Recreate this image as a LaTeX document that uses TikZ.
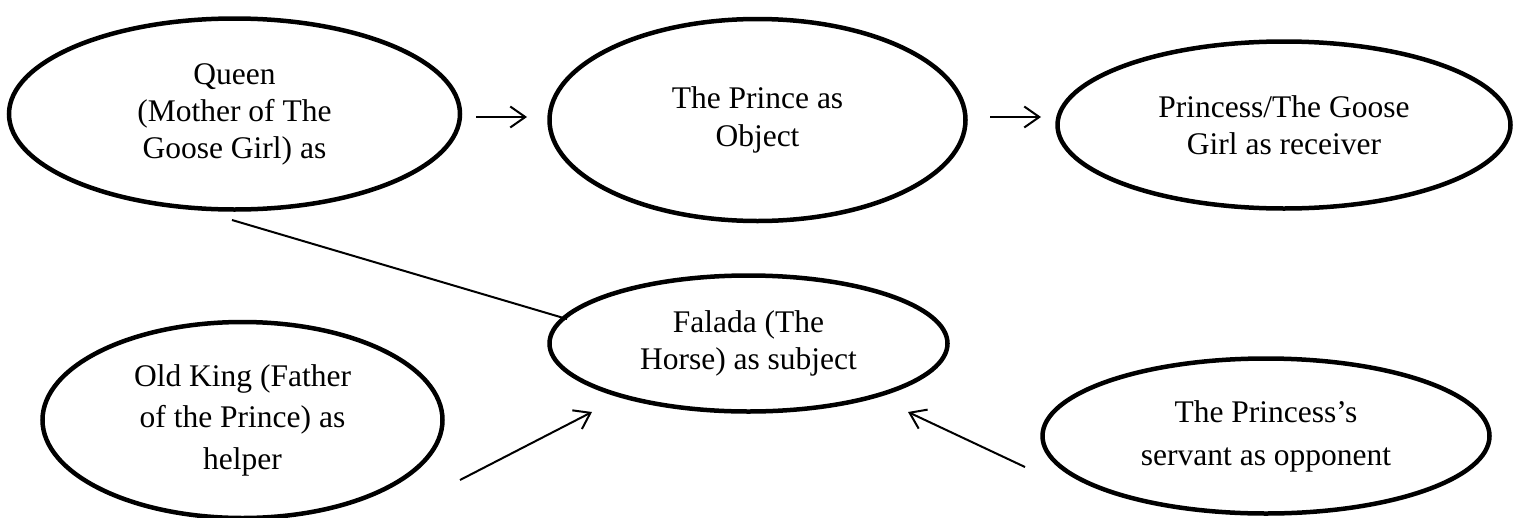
\documentclass[tikz,border=0pt]{standalone}
\usepackage{fontspec}
\setmainfont{Liberation Serif}
\usetikzlibrary{shapes.geometric,arrows.meta}
\begin{document}
\begin{tikzpicture}[x=1pt,y=-1pt,
  oval/.style={ellipse, draw, line width=4.5pt, inner sep=0pt, align=center},
  fs/.style={font=\fontsize{31.5}{#1}\selectfont},
  conn/.style={line width=2pt},
  arr/.style={conn, -{Straight Barb[length=15pt,width=21pt,line width=2pt]}}]
\useasboundingbox (0,0) rectangle (1520,517);

\node[oval, fs=37, minimum width=451pt, minimum height=191pt] (queen) at (234.5,114)
  {Queen\\(Mother of The\\Goose Girl) as};
\node[oval, fs=38, minimum width=416pt, minimum height=202pt] (prince) at (757.5,120)
  {The Prince as\\Object};
\node[oval, fs=37, minimum width=453pt, minimum height=167pt] (princess) at (1284,125)
  {Princess/The Goose\\Girl as receiver};
\node[oval, fs=37, minimum width=398pt, minimum height=136pt] (falada) at (748.5,343.5)
  {Falada (The\\Horse) as subject};
\node[oval, fs=41.5, minimum width=400pt, minimum height=196pt] (king) at (242.5,420)
  {Old King (Father\\of the Prince) as\\helper};
\node[oval, fs=43, minimum width=447pt, minimum height=155pt] (servant) at (1266,436)
  {The Princess’s\\servant as opponent};

\coordinate (a1s) at (476,117);
\coordinate (a1e) at (527,117);
\coordinate (a2s) at (990,117);
\coordinate (a2e) at (1041,117);
\coordinate (ls) at (232,220);
\coordinate (le) at (567,319);
\coordinate (a3s) at (460,480);
\coordinate (a3e) at (592,412);
\coordinate (a4s) at (1025,467);
\coordinate (a4e) at (908,412);

\draw[arr] (a1s) -- (a1e);
\draw[arr] (a2s) -- (a2e);
\draw[conn] (ls) -- (le);
\draw[arr] (a3s) -- (a3e);
\draw[arr] (a4s) -- (a4e);
\end{tikzpicture}
\end{document}
